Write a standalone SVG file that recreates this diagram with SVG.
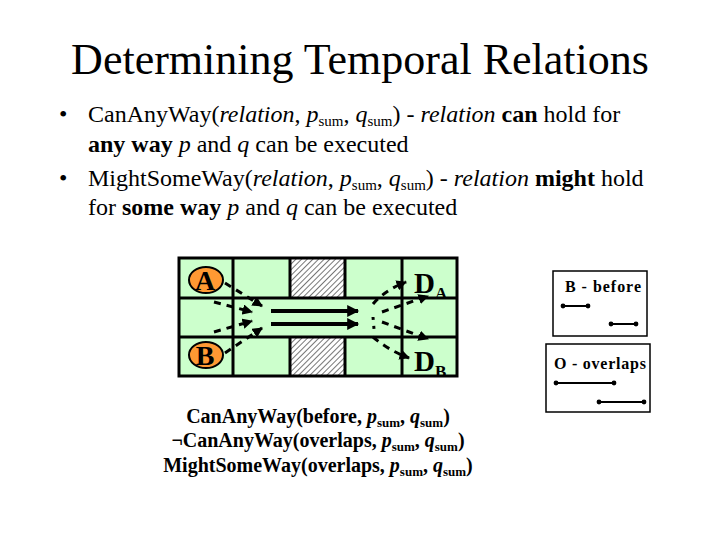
<svg xmlns="http://www.w3.org/2000/svg" width="720" height="540" viewBox="0 0 720 540" font-family="'Liberation Serif','Times New Roman',serif">
<defs>
<style>
text,tspan{font-family:"Liberation Serif","Times New Roman",serif}
.t{fill:#000}
.b{font-weight:bold}
.i{font-style:italic}
.grid{stroke:#000;stroke-width:3;fill:none}
.dash{stroke:#000;stroke-width:3;stroke-dasharray:7 6;fill:none}
.solid{stroke:#000;stroke-width:4;fill:none}
.leg{stroke:#000;stroke-width:2;fill:none}
.box{stroke:#000;stroke-width:1.5;fill:#fff}
</style>
<pattern id="hatch" patternUnits="userSpaceOnUse" width="4" height="4" patternTransform="rotate(45)">
<rect width="4" height="4" fill="#fff"/>
<line x1="0" y1="0" x2="0" y2="4" stroke="#777" stroke-width="2"/>
</pattern>
<marker id="ah" viewBox="0 0 10 10" refX="9" refY="5" markerWidth="3.5" markerHeight="3.5" orient="auto" markerUnits="strokeWidth">
<path d="M0,0 L10,5 L0,10 z" fill="#000"/>
</marker>
<marker id="ah2" viewBox="0 0 10 10" refX="9" refY="5" markerWidth="4" markerHeight="3" orient="auto" markerUnits="strokeWidth">
<path d="M0,0 L10,5 L0,10 z" fill="#000"/>
</marker>
<marker id="dot" viewBox="0 0 10 10" refX="5" refY="5" markerWidth="3" markerHeight="3" markerUnits="strokeWidth">
<circle cx="5" cy="5" r="4" fill="#000"/>
</marker>
</defs>
<rect width="720" height="540" fill="#fff"/>

<text class="t" x="360" y="74" font-size="44" text-anchor="middle">Determining Temporal Relations</text>

<g id="bullets" font-size="24">
<text class="t" x="59" y="122">•</text>
<text class="t" x="88" y="122">CanAnyWay(<tspan class="i">relation</tspan>, <tspan class="i">p</tspan><tspan font-size="15" dy="4">sum</tspan><tspan dy="-4">, </tspan><tspan class="i">q</tspan><tspan font-size="15" dy="4">sum</tspan><tspan dy="-4">) - </tspan><tspan class="i">relation</tspan> <tspan class="b">can</tspan> hold for</text>
<text class="t" x="88" y="152"><tspan class="b">any way</tspan> <tspan class="i">p</tspan> and <tspan class="i">q</tspan> can be executed</text>
<text class="t" x="59" y="186">•</text>
<text class="t" x="88" y="186">MightSomeWay(<tspan class="i">relation</tspan>, <tspan class="i">p</tspan><tspan font-size="15" dy="4">sum</tspan><tspan dy="-4">, </tspan><tspan class="i">q</tspan><tspan font-size="15" dy="4">sum</tspan><tspan dy="-4">) - </tspan><tspan class="i">relation</tspan> <tspan class="b">might</tspan> hold</text>
<text class="t" x="88" y="215">for <tspan class="b">some way</tspan> <tspan class="i">p</tspan> and <tspan class="i">q</tspan> can be executed</text>
</g>

<g id="grid">
<rect x="179" y="258" width="278" height="118" fill="#ccffcc"/>
<rect x="290" y="258" width="55" height="40" fill="url(#hatch)"/>
<rect x="290" y="337" width="55" height="39" fill="url(#hatch)"/>
<rect class="grid" x="179" y="258" width="278" height="118"/>
<line class="grid" x1="179" y1="298" x2="457" y2="298"/>
<line class="grid" x1="179" y1="337" x2="457" y2="337"/>
<line class="grid" x1="233" y1="258" x2="233" y2="376"/>
<line class="grid" x1="290" y1="258" x2="290" y2="298"/>
<line class="grid" x1="290" y1="337" x2="290" y2="376"/>
<line class="grid" x1="345" y1="258" x2="345" y2="298"/>
<line class="grid" x1="345" y1="337" x2="345" y2="376"/>
<line class="grid" x1="402" y1="258" x2="402" y2="376"/>
</g>

<g id="nodeA">
<ellipse cx="206" cy="280" rx="17" ry="13" fill="#ff9933" stroke="#000" stroke-width="2"/>
<text class="t b" x="205" y="290" font-size="28" text-anchor="middle">A</text>
</g>
<g id="nodeB">
<ellipse cx="206" cy="355" rx="17" ry="13" fill="#ff9933" stroke="#000" stroke-width="2"/>
<text class="t b" x="205" y="365" font-size="28" text-anchor="middle">B</text>
</g>
<g id="nodeDA">
<text class="t b" x="414" y="293" font-size="29">D<tspan font-size="17" dy="6">A</tspan></text>
</g>
<g id="nodeDB">
<text class="t b" x="414" y="371" font-size="29">D<tspan font-size="17" dy="6">B</tspan></text>
</g>

<g id="connectors">
<path class="dash" d="M225,283 L262,306" marker-end="url(#ah)"/>
<path class="dash" d="M214,302 L252,312" marker-end="url(#ah)"/>
<path class="dash" d="M214,332 L252,321" marker-end="url(#ah)"/>
<path class="dash" d="M225,353 L262,328" marker-end="url(#ah)"/>
<path class="solid" d="M271,311 L358,311" marker-end="url(#ah2)"/>
<path class="solid" d="M271,324 L358,324" marker-end="url(#ah2)"/>
<path class="dash" d="M373,304 Q385,290 406,282" marker-end="url(#ah)"/>
<path class="dash" d="M373,337 Q388,350 409,358" marker-end="url(#ah)"/>
<path class="dash" d="M382,312 L428,296" marker-end="url(#ah)"/>
<path class="dash" d="M382,322 L428,339" marker-end="url(#ah)"/>
<line x1="373" y1="317" x2="374" y2="329" stroke="#000" stroke-width="3" stroke-dasharray="3 6"/>
</g>

<g id="legendBefore">
<rect class="box" x="553" y="271" width="94" height="65"/>
<text class="t b" x="565" y="292" font-size="16" textLength="76" lengthAdjust="spacing">B - before</text>
<line class="leg" x1="563" y1="306" x2="588" y2="306" marker-start="url(#dot)" marker-end="url(#dot)"/>
<line class="leg" x1="611" y1="324" x2="636" y2="324" marker-start="url(#dot)" marker-end="url(#dot)"/>
</g>
<g id="legendOverlaps">
<rect class="box" x="546" y="344" width="104" height="68"/>
<text class="t b" x="554" y="369" font-size="16" textLength="92" lengthAdjust="spacing">O - overlaps</text>
<line class="leg" x1="556" y1="383" x2="614" y2="383" marker-start="url(#dot)" marker-end="url(#dot)"/>
<line class="leg" x1="599" y1="402" x2="644" y2="402" marker-start="url(#dot)" marker-end="url(#dot)"/>
</g>

<g id="caption" font-size="20">
<text class="t b" x="318" y="423" text-anchor="middle">CanAnyWay(before, <tspan class="i">p</tspan><tspan font-size="13" dy="4">sum</tspan><tspan dy="-4">, </tspan><tspan class="i">q</tspan><tspan font-size="13" dy="4">sum</tspan><tspan dy="-4">)</tspan></text>
<text class="t b" x="318" y="447" text-anchor="middle">¬CanAnyWay(overlaps, <tspan class="i">p</tspan><tspan font-size="13" dy="4">sum</tspan><tspan dy="-4">, </tspan><tspan class="i">q</tspan><tspan font-size="13" dy="4">sum</tspan><tspan dy="-4">)</tspan></text>
<text class="t b" x="318" y="472" text-anchor="middle">MightSomeWay(overlaps, <tspan class="i">p</tspan><tspan font-size="13" dy="4">sum</tspan><tspan dy="-4">, </tspan><tspan class="i">q</tspan><tspan font-size="13" dy="4">sum</tspan><tspan dy="-4">)</tspan></text>
</g>
</svg>
